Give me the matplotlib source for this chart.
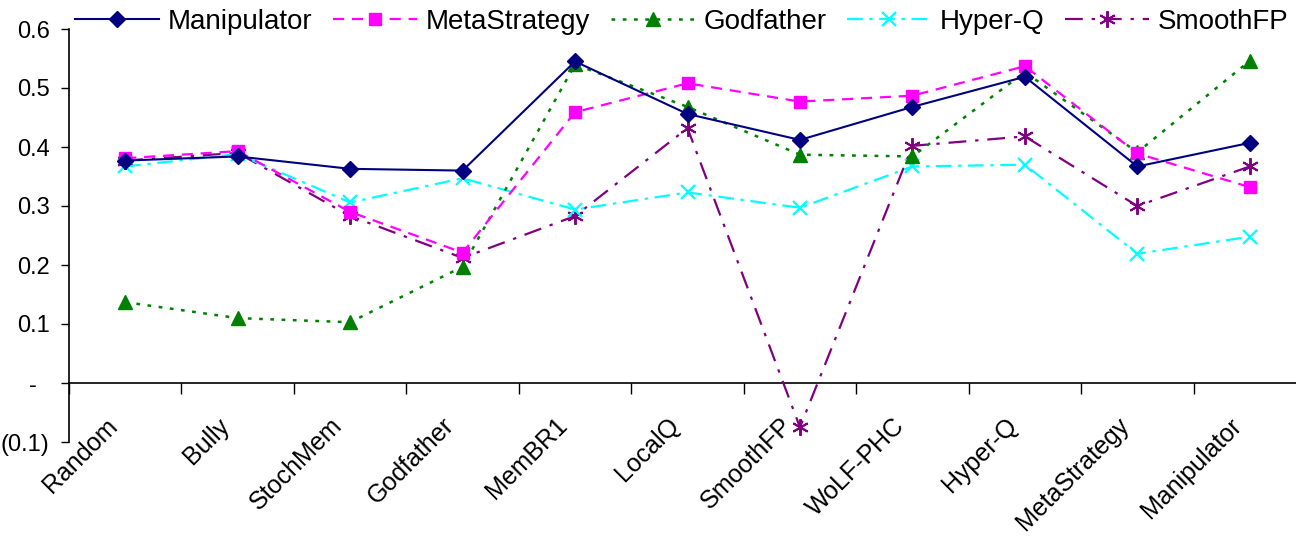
import matplotlib
matplotlib.use("Agg")
import matplotlib.pyplot as plt
import matplotlib.transforms as mtransforms
import numpy as np

categories = ["Random", "Bully", "StochMem", "Godfather", "MemBR1", "LocalQ",
              "SmoothFP", "WoLF-PHC", "Hyper-Q", "MetaStrategy", "Manipulator"]

manipulator = [0.377, 0.384, 0.363, 0.360, 0.545, 0.456, 0.412, 0.468, 0.519, 0.367, 0.407]
metastrategy = [0.381, 0.393, 0.290, 0.221, 0.459, 0.508, 0.477, 0.487, 0.537, 0.389, 0.332]
godfather = [0.137, 0.110, 0.103, 0.197, 0.540, 0.468, 0.387, 0.384, 0.527, 0.391, 0.546]
hyperq = [0.367, 0.388, 0.306, 0.347, 0.294, 0.323, 0.297, 0.367, 0.370, 0.219, 0.248]
smoothfp = [0.377, 0.390, 0.283, 0.212, 0.283, 0.432, -0.075, 0.402, 0.418, 0.300, 0.367]

series_names = ["Manipulator", "MetaStrategy", "Godfather", "Hyper-Q", "SmoothFP"]

ytick_vals = [-0.1, 0.0, 0.1, 0.2, 0.3, 0.4, 0.5, 0.6]
ytick_labels = ["(0.1)", "-  ", "0.1", "0.2", "0.3", "0.4", "0.5", "0.6"]

plt.rcParams['font.family'] = ['Liberation Sans', 'DejaVu Sans']

W, H = 1296, 537
fig = plt.figure(figsize=(W / 100, H / 100), dpi=100)
left, right, top, bottom = 69, 1306, 29, 442
ax = fig.add_axes([left / W, 1 - bottom / H, (right - left) / W, (bottom - top) / H])

x = np.arange(len(categories))
ax.plot(x, manipulator, color="#000080", linestyle="-", lw=1.5, marker="D", ms=8.5,
        label=series_names[0], zorder=5)
ax.plot(x, metastrategy, color="#FF00FF", linestyle=(0, (5, 3.5)), lw=1.6, marker="s", ms=8,
        label=series_names[1], zorder=4)
ax.plot(x, godfather, color="#008000", linestyle=(0, (1.5, 3)), lw=1.8, marker="^", ms=10,
        label=series_names[2], zorder=3)
ax.plot(x, hyperq, color="#00FFFF", linestyle=(0, (7, 3, 1.5, 3)), lw=1.6, marker="x", ms=10,
        mew=1.6, label=series_names[3], zorder=2)
ax.plot(x, smoothfp, color="#800080", linestyle=(0, (8, 4, 1.5, 4)), lw=1.6, marker=(6, 2, 0),
        ms=12, mew=1.4, label=series_names[4], zorder=1)

ax.set_xlim(-0.5, len(categories) - 0.5)
ax.set_ylim(-0.1, 0.6)

# y axis
ax.set_yticks(ytick_vals)
ax.set_yticklabels(ytick_labels, fontsize=17)
ax.tick_params(axis="y", direction="out", length=6, width=1, pad=8)

# spines
for s in ["top", "right", "bottom"]:
    ax.spines[s].set_visible(False)
ax.spines["left"].set_linewidth(1.2)

# x category labels at the bottom
ax.set_xticks(x)
ax.set_xticklabels(categories, fontsize=18, rotation=45, ha="right", va="center",
                   rotation_mode="anchor")
ax.tick_params(axis="x", length=0, pad=0)
offset = mtransforms.ScaledTranslation(-12 / 100, 20 / 100, fig.dpi_scale_trans)
for lbl in ax.get_xticklabels():
    lbl.set_transform(lbl.get_transform() + offset)

# horizontal axis line at zero with ticks between categories
sec = ax.secondary_xaxis(0.1 / 0.7)
sec.set_xticks(np.arange(-0.5, len(categories), 1.0))
sec.set_xticklabels([])
sec.tick_params(axis="x", direction="out", length=8, width=1)
sec.spines["bottom"].set_linewidth(1.2)

leg = fig.legend(loc="center", bbox_to_anchor=(682 / W, 1 - 22 / H), ncol=5, frameon=False,
                 fontsize=20, handlelength=3.0, handletextpad=0.33, columnspacing=0.75,
                 borderpad=0, borderaxespad=0)

fig.savefig("out.png", dpi=100)
